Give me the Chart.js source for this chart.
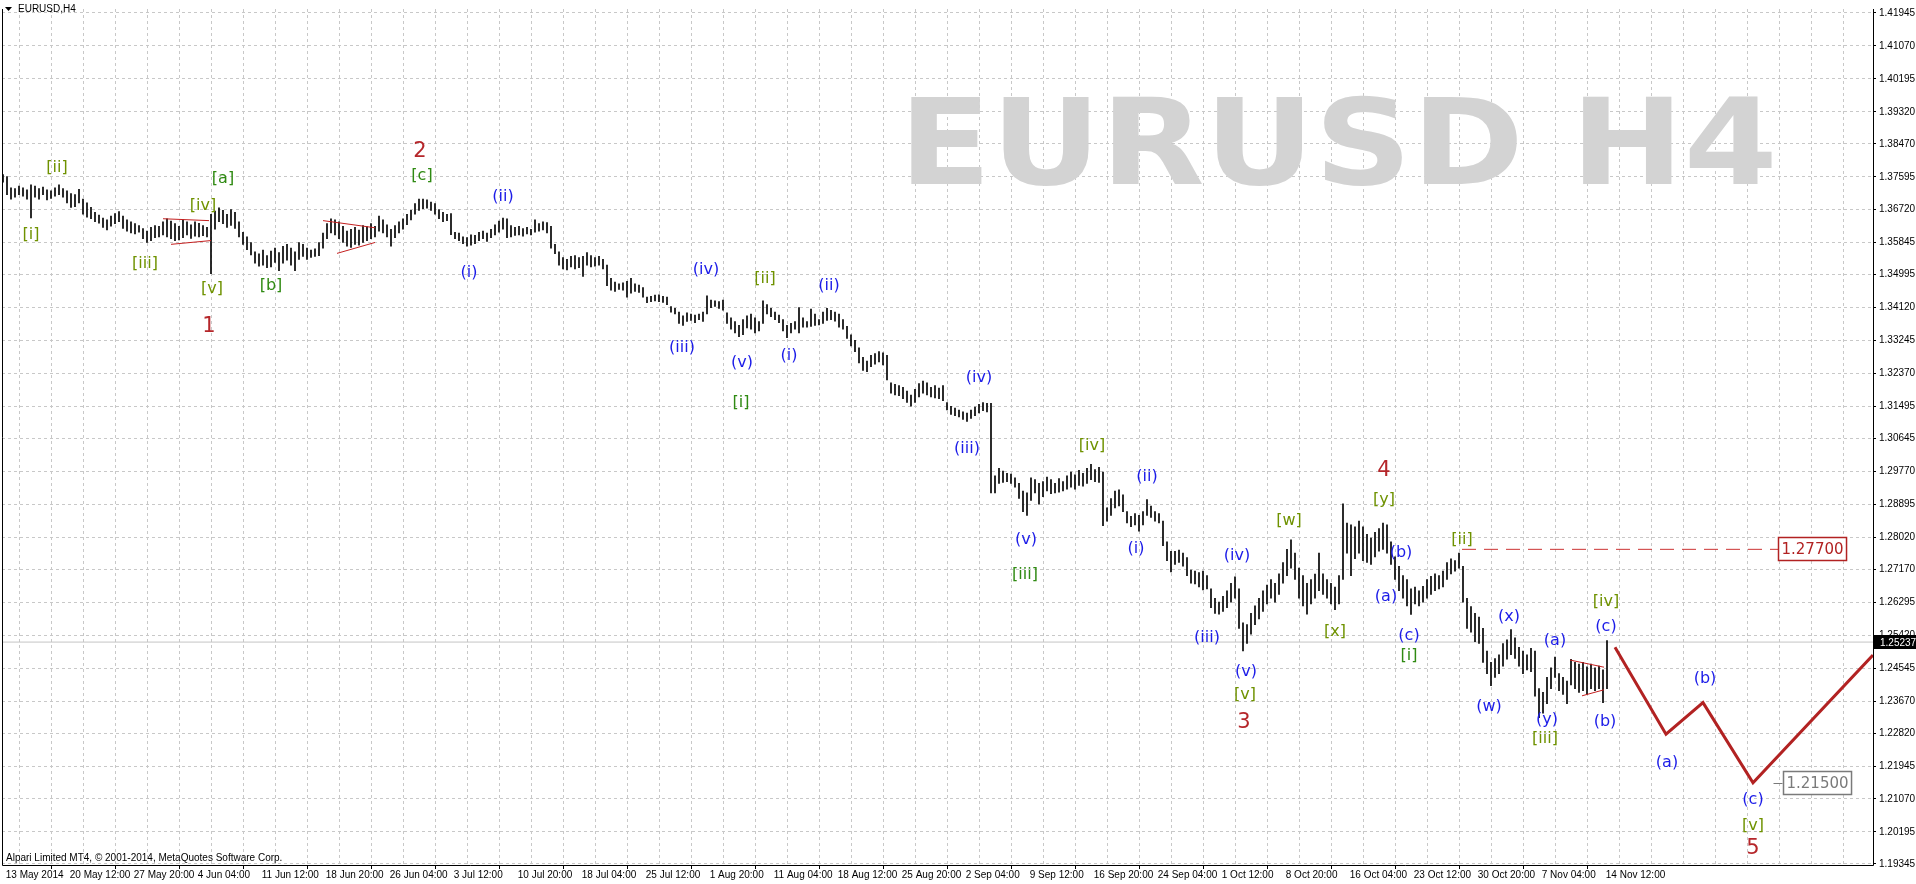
<!DOCTYPE html>
<html><head><meta charset="utf-8">
<script src="https://cdn.jsdelivr.net/npm/chart.js@4.4.0/dist/chart.umd.min.js"></script>
<style>html,body{margin:0;padding:0;background:#fff;overflow:hidden}canvas{display:block}</style>
</head><body>
<canvas id="c" width="1916" height="884"></canvas>
<script>
// ---- DATA ----
// Each bar = two H4 periods; x position in H4-bar units = 2*index
const barHigh = [
1.3765,1.3760,1.3730,1.3728,1.3735,1.3730,1.3725,1.3738,
1.3735,1.3728,1.3732,1.3725,1.3722,1.3730,1.3738,1.3728,1.3722,1.3715,1.3712,1.3726,
1.3700,1.3690,1.3678,1.3665,1.3658,
1.3650,1.3645,1.3655,1.3662,1.3667,1.3655,1.3645,1.3640,1.3635,1.3630,
1.3622,1.3615,1.3625,1.3630,1.3628,1.3640,
1.3648,1.3642,1.3635,1.3628,1.3645,1.3640,1.3632,1.3640,1.3636,1.3630,1.3625,
1.3660,
1.3668,1.3677,1.3670,1.3660,1.3672,1.3665,
1.3640,1.3612,1.3600,1.3585,
1.3560,1.3555,1.3565,1.3550,1.3562,1.3570,1.3558,1.3575,1.3580,1.3570,
1.3560,1.3585,1.3580,1.3570,1.3565,1.3568,1.3585,
1.3610,1.3635,1.3648,
1.3645,1.3640,1.3628,1.3615,1.3620,1.3625,1.3618,1.3630,1.3627,1.3635,1.3628,
1.3655,1.3645,1.3632,1.3620,1.3630,1.3640,
1.3648,1.3660,1.3670,1.3688,1.3700,
1.3700,1.3698,1.3692,1.3688,
1.3672,1.3665,1.3660,1.3662,
1.3612,1.3610,1.3600,1.3598,1.3605,1.3604,1.3612,1.3615,1.3610,
1.3620,1.3632,1.3642,1.3650,1.3648,
1.3630,1.3625,1.3628,1.3622,1.3625,1.3620,
1.3645,1.3635,1.3640,1.3638,
1.3628,1.3580,
1.3560,1.3545,1.3540,1.3548,1.3550,1.3545,1.3548,1.3558,1.3550,1.3545,1.3548,1.3540,
1.3525,1.3490,
1.3480,1.3475,1.3478,1.3482,1.3490,1.3475,1.3472,1.3465,
1.3440,1.3442,1.3445,1.3446,1.3442,1.3440,
1.3415,1.3410,1.3400,1.3390,1.3398,1.3395,1.3392,1.3395,1.3400,
1.3443,1.3432,1.3430,1.3428,1.3432,
1.3398,1.3385,1.3375,1.3365,1.3380,1.3390,1.3395,1.3385,1.3375,1.3430,
1.3420,1.3410,1.3400,1.3392,1.3380,1.3365,
1.3370,1.3375,1.3412,
1.3385,1.3375,1.3408,1.3395,1.3380,1.3400,1.3410,1.3405,1.3400,1.3395,
1.3380,1.3362,1.3340,1.3325,
1.3305,1.3280,1.3270,1.3285,1.3290,1.3295,1.3292,1.3285,
1.3212,1.3208,1.3205,1.3200,1.3190,1.3180,
1.3195,1.3210,1.3217,1.3212,1.3200,1.3205,1.3198,1.3205,
1.3160,1.3150,1.3145,1.3140,1.3135,1.3132,1.3140,1.3148,1.3155,1.3160,1.3158,
1.3158,
1.2965,1.2985,1.2978,1.2972,1.2970,1.2960,1.2945,
1.2925,1.2920,
1.2960,1.2955,1.2945,1.2950,1.2962,1.2955,1.2945,1.2958,1.2950,1.2965,
1.2975,1.2968,1.2980,1.2972,1.2985,1.2996,1.2982,1.2988,1.2975,
1.2880,1.2905,1.2925,1.2928,1.2915,
1.2870,1.2858,1.2865,1.2860,1.2870,
1.2902,1.2885,1.2870,1.2865,
1.2845,1.2790,1.2765,
1.2765,1.2768,1.2760,1.2748,
1.2715,1.2712,1.2708,1.2712,1.2700,
1.2665,1.2640,1.2630,1.2645,1.2660,1.2680,
1.2697,1.2665,1.2575,1.2570,
1.2600,1.2620,1.2640,1.2660,1.2675,1.2690,1.2680,1.2705,1.2735,1.2770,1.2795,
1.2760,1.2720,1.2700,1.2680,
1.2690,1.2704,1.2760,
1.2705,1.2690,1.2680,1.2670,1.2700,
1.2891,
1.2840,1.2835,1.2830,1.2845,1.2830,1.2810,1.2800,1.2815,1.2825,1.2840,1.2835,
1.2790,1.2750,1.2725,1.2700,1.2690,1.2665,
1.2670,1.2660,1.2672,1.2690,1.2698,1.2705,1.2700,1.2712,1.2735,
1.2745,1.2740,1.2760,
1.2725,1.2640,
1.2618,1.2600,1.2590,1.2560,
1.2500,1.2470,1.2480,1.2490,
1.2520,1.2530,1.2557,
1.2535,1.2510,1.2500,1.2490,1.2507,
1.2500,1.2400,
1.2390,1.2430,1.2455,1.2484,
1.2440,1.2430,1.2420,
1.2478,1.2470,1.2465,1.2470,1.2458,1.2465,1.2455,1.2460,1.2450,1.2528
];
const barLow = [
1.3745,1.3712,1.3700,1.3705,1.3712,1.3708,1.3700,1.3650,
1.3705,1.3700,1.3712,1.3698,1.3702,1.3708,1.3712,1.3705,1.3690,1.3678,1.3680,1.3690,
1.3660,1.3652,1.3648,1.3640,1.3636,
1.3625,1.3618,1.3628,1.3635,1.3640,1.3622,1.3615,1.3610,1.3608,1.3612,
1.3595,1.3585,1.3590,1.3598,1.3600,1.3605,
1.3600,1.3595,1.3590,1.3592,1.3598,1.3605,1.3596,1.3602,1.3600,1.3603,1.3600,
1.3502,
1.3620,1.3640,1.3635,1.3625,1.3630,1.3622,
1.3600,1.3580,1.3566,1.3552,
1.3530,1.3522,1.3525,1.3518,1.3520,1.3532,1.3510,1.3530,1.3538,1.3525,
1.3510,1.3540,1.3548,1.3540,1.3545,1.3548,1.3550,
1.3570,1.3595,1.3610,
1.3605,1.3595,1.3585,1.3575,1.3572,1.3580,1.3578,1.3585,1.3590,1.3595,1.3600,
1.3615,1.3610,1.3600,1.3575,1.3598,1.3610,
1.3620,1.3632,1.3645,1.3660,1.3670,
1.3675,1.3676,1.3670,1.3660,
1.3648,1.3640,1.3643,1.3606,
1.3595,1.3590,1.3582,1.3575,1.3578,1.3582,1.3590,1.3595,1.3588,
1.3598,1.3605,1.3612,1.3620,1.3598,
1.3600,1.3604,1.3605,1.3602,1.3608,1.3605,
1.3612,1.3615,1.3618,1.3610,
1.3570,1.3555,
1.3525,1.3515,1.3512,1.3520,1.3515,1.3518,1.3495,1.3525,1.3520,1.3522,1.3525,1.3515,
1.3470,1.3458,
1.3455,1.3460,1.3458,1.3440,1.3450,1.3455,1.3452,1.3440,
1.3425,1.3428,1.3430,1.3428,1.3426,1.3420,
1.3400,1.3395,1.3370,1.3365,1.3375,1.3378,1.3372,1.3380,1.3375,
1.3395,1.3412,1.3415,1.3410,1.3405,
1.3370,1.3355,1.3345,1.3335,1.3340,1.3358,1.3355,1.3345,1.3350,1.3370,
1.3395,1.3388,1.3380,1.3372,1.3350,1.3332,
1.3345,1.3355,1.3345,
1.3360,1.3360,1.3362,1.3365,1.3366,1.3370,1.3378,1.3380,1.3376,1.3360,
1.3355,1.3330,1.3310,1.3295,
1.3265,1.3245,1.3242,1.3255,1.3262,1.3268,1.3260,1.3220,
1.3185,1.3180,1.3178,1.3170,1.3160,1.3150,
1.3160,1.3175,1.3185,1.3180,1.3175,1.3172,1.3170,1.3165,
1.3140,1.3128,1.3125,1.3122,1.3115,1.3110,1.3118,1.3125,1.3132,1.3138,1.3135,
1.2920,
1.2920,1.2945,1.2948,1.2950,1.2945,1.2935,1.2905,
1.2870,1.2860,
1.2900,1.2920,1.2890,1.2910,1.2925,1.2918,1.2920,1.2922,1.2925,1.2930,
1.2935,1.2930,1.2940,1.2938,1.2945,1.2955,1.2950,1.2948,1.2833,
1.2845,1.2860,1.2880,1.2885,1.2870,
1.2840,1.2830,1.2835,1.2818,1.2835,
1.2860,1.2855,1.2845,1.2840,
1.2780,1.2740,1.2710,
1.2730,1.2735,1.2725,1.2700,
1.2680,1.2678,1.2670,1.2662,1.2665,
1.2615,1.2600,1.2598,1.2605,1.2615,1.2630,
1.2640,1.2560,1.2500,1.2520,
1.2545,1.2570,1.2585,1.2605,1.2625,1.2640,1.2630,1.2650,1.2680,1.2700,1.2720,
1.2690,1.2640,1.2620,1.2598,
1.2625,1.2640,1.2660,
1.2650,1.2640,1.2625,1.2610,1.2625,
1.2690,
1.2760,1.2700,1.2745,1.2760,1.2740,1.2735,1.2730,1.2750,1.2765,1.2770,1.2760,
1.2730,1.2690,1.2660,1.2640,1.2620,1.2597,
1.2625,1.2620,1.2630,1.2640,1.2650,1.2660,1.2665,1.2670,1.2690,
1.2705,1.2712,1.2720,
1.2630,1.2560,
1.2550,1.2525,1.2520,1.2470,
1.2440,1.2408,1.2430,1.2440,
1.2460,1.2478,1.2490,
1.2480,1.2460,1.2440,1.2450,1.2445,
1.2380,1.2323,
1.2335,1.2360,1.2400,1.2430,
1.2395,1.2385,1.2360,
1.2410,1.2400,1.2390,1.2395,1.2385,1.2400,1.2395,1.2400,1.2363,1.2400
];
const lastPrice = 1.25237;

const timeLabels = ['13 May 2014','20 May 12:00','27 May 20:00','4 Jun 04:00','11 Jun 12:00','18 Jun 20:00','26 Jun 04:00','3 Jul 12:00','10 Jul 20:00','18 Jul 04:00','25 Jul 12:00','1 Aug 20:00','11 Aug 04:00','18 Aug 12:00','25 Aug 20:00','2 Sep 04:00','9 Sep 12:00','16 Sep 20:00','24 Sep 04:00','1 Oct 12:00','8 Oct 20:00','16 Oct 04:00','23 Oct 12:00','30 Oct 20:00','7 Nov 04:00','14 Nov 12:00'];
const priceTicks = [1.41945,1.41070,1.40195,1.39320,1.38470,1.37595,1.36720,1.35845,1.34995,1.34120,1.33245,1.32370,1.31495,1.30645,1.29770,1.28895,1.28020,1.27170,1.26295,1.25420,1.24545,1.23670,1.22820,1.21945,1.21070,1.20195,1.19345];

// projected path (red)
const projU = [806, 831.5, 850, 875, 935];
const projP = [1.2510, 1.2279, 1.2363, 1.2150, 1.2489];
// triangles (upper/lower trend lines)
const tri1UpU = [80, 103],  tri1UpP = [1.3648, 1.3643];
const tri1LoU = [84, 104],  tri1LoP = [1.3580, 1.3590];
const tri2UpU = [160, 186], tri2UpP = [1.3643, 1.3624];
const tri2LoU = [167, 186], tri2LoP = [1.3556, 1.3585];
const tri3UpU = [783.5, 800.5], tri3UpP = [1.2476, 1.2457];
const tri3LoU = [789.5, 800.5], tri3LoP = [1.2381, 1.2397];
// target level
const targetU = [729.5, 887.5], targetP = [1.2770, 1.2770];

// Elliott wave labels
const waveText = ['[i]','[ii]','[iii]','[iv]','[v]','1','[a]','[b]','[c]','2',
 '(i)','(ii)','(iii)','(iv)','(v)','[i]','[ii]','(i)','(ii)','(iv)','(iii)','[iv]','(ii)','(v)','[iii]','(i)',
 '(iv)','(iii)','(v)','[v]','3','[w]','[x]','4','[y]','(b)','(a)','(c)','[i]','[ii]','(x)','(w)','(a)','(y)','[iii]',
 '[iv]','(c)','(b)','(b)','(a)','(c)','[v]','5'];
const waveU = [14,27,71,100,104.5,103,110,134,209.5,208.5,
 233,250,339.5,351.5,369.5,369,381,393,413,488,482,544.5,572,511.5,511,566.5,
 617,602,621.5,621,620.5,643,666,690.5,690.5,699,691.5,703,703,729.5,753,743,776,772,771,
 801.5,801.5,801,851,832,875,875,875];
const waveP = [1.3606,1.3782,1.3527,1.3682,1.3461,1.3362,1.3753,1.3469,1.3761,1.3827,
 1.3503,1.3706,1.3306,1.3511,1.3264,1.3159,1.3488,1.3285,1.3469,1.3225,1.3036,1.3046,1.2962,1.2794,1.2702,1.2770,
 1.2752,1.2534,1.2444,1.2384,1.2310,1.2846,1.2552,1.2978,1.2902,1.2762,1.2644,1.2539,1.2486,1.2796,1.2591,1.2352,1.2526,1.2316,1.2268,
 1.2631,1.2565,1.2313,1.2426,1.2202,1.2105,1.2037,1.1976];
const waveKind = ['G','G','G','G','G','R','g','g','g','R',
 'B','B','B','B','B','g','G','B','B','B','B','G','B','B','g','B',
 'B','B','B','G','R','G','G','R','G','B','B','B','g','G','B','B','B','B','G',
 'G','B','B','B','B','B','G','R'];

// price boxes
const boxText = ['1.27700','1.21500'];
const boxU = [887.5, 890];
const boxP = [1.2770, 1.2150];
const boxColor = ['#b22222','#7a7a7a'];

// ---- CHART ----
const kindColor = {G:'#6f9200', g:'#2f8a12', B:'#1c1ce8', R:'#b5262a'};
const bars = barHigh.map((h, i) => ({x: 2 * i, y: [barLow[i], h]}));
const pts = (us, ps) => us.map((u, k) => ({x: u, y: ps[k]}));
const thinRed = (us, ps) => ({type:'line', data: pts(us, ps), borderColor:'#c42020', borderWidth:1, pointRadius:0, order:2});
const xTickVals = [];
for (let v = 0; v <= 928; v += 16) xTickVals.push(v);
const labelFont = {family:'Liberation Sans', size:10};

const decor = {
  id: 'decor',
  beforeDraw(chart) {
    const c = chart.ctx;
    c.save(); c.fillStyle = '#fff'; c.fillRect(0, 0, chart.width, chart.height); c.restore();
  },
  beforeDatasetsDraw(chart) {
    const c = chart.ctx;
    c.save();
    c.fillStyle = '#d3d3d3';
    c.font = 'bold 120px "DejaVu Sans"';
    c.textBaseline = 'alphabetic';
    c.textAlign = 'left';
    c.translate(899, 184);
    c.scale(1.125, 1);
    c.fillText('EURUSD H4', 0, 0);
    c.restore();
  },
  afterDatasetsDraw(chart) {
    const c = chart.ctx, xs = chart.scales.x, ys = chart.scales.y, a = chart.chartArea;
    c.save();
    // frame
    c.strokeStyle = '#000'; c.lineWidth = 1;
    c.beginPath();
    c.moveTo(a.left + 0.5, a.top); c.lineTo(a.left + 0.5, a.bottom + 0.5);
    c.lineTo(a.right + 0.5, a.bottom + 0.5); c.lineTo(a.right + 0.5, a.top);
    c.stroke();
    // wave labels
    c.textAlign = 'center'; c.textBaseline = 'middle';
    waveText.forEach((t, k) => {
      const kind = waveKind[k];
      c.fillStyle = kindColor[kind];
      c.font = kind === 'R' ? '21px "DejaVu Sans"' : '16px "DejaVu Sans"';
      c.fillText(t, xs.getPixelForValue(waveU[k]), ys.getPixelForValue(waveP[k]));
    });
    // price boxes
    c.font = '15px "DejaVu Sans"';
    boxText.forEach((t, k) => {
      const x = Math.round(xs.getPixelForValue(boxU[k])) + 0.5;
      const y = Math.round(ys.getPixelForValue(boxP[k]));
      const w = c.measureText(t).width + 6;
      c.fillStyle = '#fff'; c.fillRect(x, y - 11.5, w, 23);
      c.strokeStyle = boxColor[k]; c.lineWidth = 1.5; c.strokeRect(x, y - 11.5, w, 23);
      c.fillStyle = boxColor[k]; c.textAlign = 'left'; c.textBaseline = 'middle';
      c.fillText(t, x + 3, y + 1);
      if (k === 1) { c.lineWidth = 1; c.beginPath(); c.moveTo(x - 10, y + 0.5); c.lineTo(x - 1, y + 0.5); c.stroke(); }
    });
    // current price tag
    const py = Math.round(ys.getPixelForValue(lastPrice));
    c.fillStyle = '#000'; c.fillRect(a.right + 1, py - 7, chart.width - a.right, 14);
    c.fillStyle = '#fff'; c.font = '10px "Liberation Sans"'; c.textAlign = 'left'; c.textBaseline = 'middle';
    c.fillText(lastPrice.toFixed(5), a.right + 7, py + 1);
    // title
    c.fillStyle = '#000';
    c.beginPath(); c.moveTo(5, 7); c.lineTo(12, 7); c.lineTo(8.5, 11); c.closePath(); c.fill();
    c.font = '10px "Liberation Sans"'; c.textBaseline = 'middle';
    c.fillText('EURUSD,H4', 18, 9);
    c.fillText('Alpari Limited MT4, \u00a9 2001-2014, MetaQuotes Software Corp.', 6, 858);
    c.restore();
  }
};

new Chart(document.getElementById('c'), {
  type: 'bar',
  data: { datasets: [
    {type:'line', data: pts([-0.5, 935], [lastPrice, lastPrice]), borderColor:'#c4c4c4', borderWidth:1, pointRadius:0, order:20},
    {type:'bar', data: bars, backgroundColor:'#000', borderWidth:0, barThickness:1, order:10},
    thinRed(tri1UpU, tri1UpP), thinRed(tri1LoU, tri1LoP),
    thinRed(tri2UpU, tri2UpP), thinRed(tri2LoU, tri2LoP),
    thinRed(tri3UpU, tri3UpP), thinRed(tri3LoU, tri3LoP),
    {type:'line', data: pts(targetU, targetP), borderColor:'#cc3333', borderWidth:1, borderDash:[14,8], pointRadius:0, order:1},
    {type:'line', data: pts(projU, projP), borderColor:'#b22222', borderWidth:3, pointRadius:0, order:0}
  ]},
  options: {
    responsive: false, animation: false, devicePixelRatio: 1,
    layout: {padding: {left: 2, top: 0, right: 0, bottom: 0}},
    plugins: {legend: {display: false}, tooltip: {enabled: false}},
    scales: {
      x: {
        type: 'linear', min: -0.5, max: 935, offset: false,
        afterBuildTicks: s => { s.ticks = xTickVals.map(v => ({value: v})); },
        afterFit: s => { s.height = 19; },
        grid: {color:'#c8c8c8', lineWidth:1, drawTicks:true, tickLength:4, tickBorderDash:[],
               tickColor: ctx => (ctx.tick && ctx.tick.value % 32 === 0 && ctx.tick.value <= 800) ? '#000' : 'rgba(0,0,0,0)'},
        border: {display:false, dash:[3,3]},
        ticks: {autoSkip:false, maxRotation:0, minRotation:0, align:'start', padding:0, color:'#000', font: labelFont,
                callback: v => (v % 32 === 0 && v / 32 < timeLabels.length) ? ' ' + timeLabels[v / 32] : ''}
      },
      y: {
        type: 'linear', position: 'right', min: 1.19317, max: 1.4205,
        afterBuildTicks: s => { s.ticks = priceTicks.map(v => ({value: v})); },
        afterFit: s => { s.width = 43; },
        grid: {color:'#c8c8c8', lineWidth:1, drawTicks:true, tickLength:3, tickBorderDash:[], tickColor:'#000'},
        border: {display:false, dash:[3,3]},
        ticks: {padding:3, color:'#000', font: labelFont, callback: v => Number(v).toFixed(5)}
      }
    }
  },
  plugins: [decor]
});
</script>
</body></html>
